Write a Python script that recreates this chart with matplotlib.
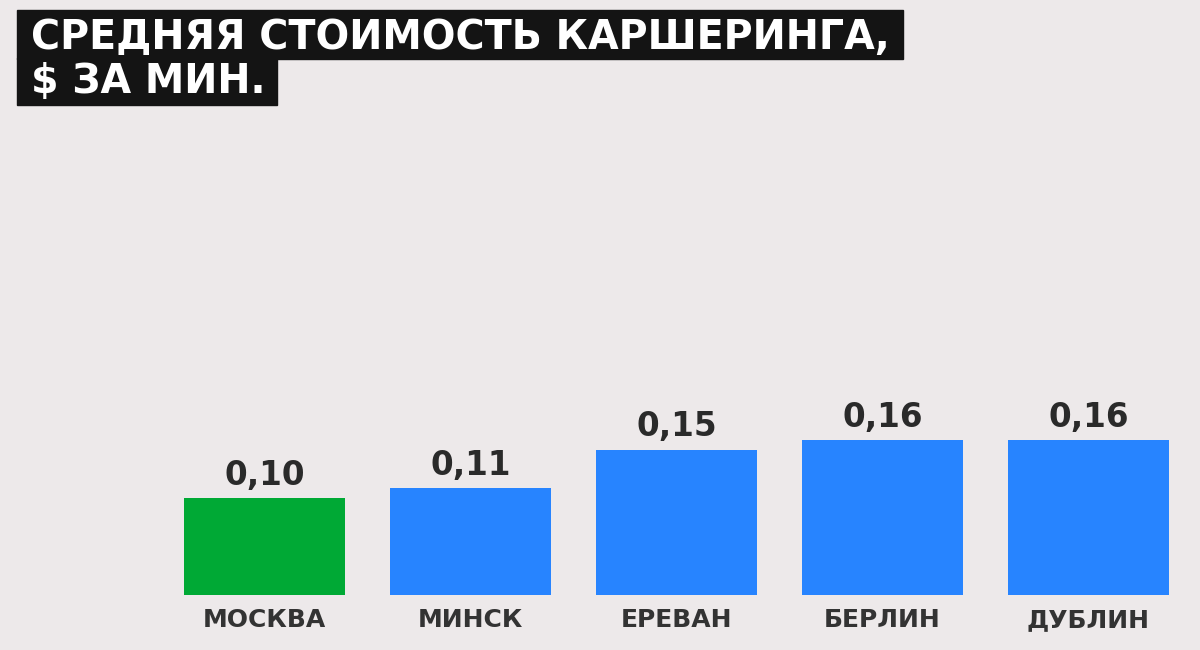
import matplotlib.pyplot as plt
from matplotlib.patches import Rectangle

cities = ["МОСКВА", "МИНСК", "ЕРЕВАН", "БЕРЛИН", "ДУБЛИН"]
prices = [0.10, 0.11, 0.15, 0.16, 0.16]
labels = ["0,10", "0,11", "0,15", "0,16", "0,16"]
colors = ["#00a935", "#2784ff", "#2784ff", "#2784ff", "#2784ff"]

bg = "#ede9ea"
W, H = 1200, 650

fig = plt.figure(figsize=(12, 6.5), dpi=100, facecolor=bg)
ax = fig.add_axes([0, 55 / H, 1, 485 / H])
ax.set_facecolor(bg)

x = range(len(cities))
ax.bar(x, prices, width=0.777, color=colors)
ax.set_xlim(-264.5 / 206, (W - 264.5) / 206)
ax.set_ylim(0, 0.5)

for i, (v, lab) in enumerate(zip(prices, labels)):
    ax.annotate(lab, (i, v), xytext=(0, 9.5), textcoords="offset points",
                ha="center", va="baseline", fontsize=23.5, fontweight="bold",
                family="DejaVu Sans", color="#2a2a2a")
    ax.annotate(cities[i], (i, 0), xytext=(0, -23), textcoords="offset points",
                ha="center", va="baseline", fontsize=18, fontweight="bold",
                family="DejaVu Sans", color="#333333")

for s in ax.spines.values():
    s.set_visible(False)
ax.set_xticks([])
ax.set_yticks([])

# title plates
fig.patches.append(Rectangle((17 / W, 1 - 59 / H), 886 / W, 49 / H,
                             transform=fig.transFigure, color="#141414", zorder=0))
fig.patches.append(Rectangle((17 / W, 1 - 105 / H), 260 / W, 47 / H,
                             transform=fig.transFigure, color="#141414", zorder=0))
fig.text(31 / W, 1 - 49 / H, "СРЕДНЯЯ СТОИМОСТЬ КАРШЕРИНГА,", fontsize=28.5,
         fontweight="bold", color="white", family="DejaVu Sans", va="baseline")
fig.text(31 / W, 1 - 93 / H, "$ ЗА МИН.", fontsize=28.5,
         fontweight="bold", color="white", family="DejaVu Sans", va="baseline")

fig.savefig("out.png", dpi=100, facecolor=bg)
